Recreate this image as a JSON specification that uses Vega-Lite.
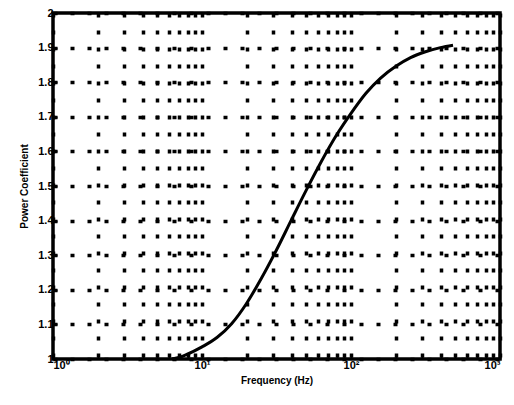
{
  "$schema": "https://vega.github.io/schema/vega-lite/v6.json",
  "width": 447,
  "height": 346,
  "autosize": {"type": "none"},
  "padding": {"left": 53, "top": 13, "right": 14, "bottom": 46},
  "background": "white",
  "config": {
    "view": {"stroke": "black", "strokeWidth": 3.5},
    "axis": {
      "labelFont": "Liberation Sans",
      "labelFontWeight": "bold",
      "labelFontSize": 11,
      "labelColor": "black",
      "titleFont": "Liberation Sans",
      "titleFontWeight": "bold",
      "titleFontSize": 10,
      "titleColor": "black",
      "domain": false,
      "gridColor": "black",
      "gridOpacity": 1,
      "tickColor": "black"
    }
  },
  "data": {
    "values": [
      {"f": 6.3, "p": 1.0},
      {"f": 7.1, "p": 1.005},
      {"f": 7.9, "p": 1.013},
      {"f": 10, "p": 1.035},
      {"f": 12.6, "p": 1.062},
      {"f": 15.8, "p": 1.102},
      {"f": 20, "p": 1.162},
      {"f": 25.1, "p": 1.234},
      {"f": 31.6, "p": 1.315},
      {"f": 39.8, "p": 1.402},
      {"f": 50.1, "p": 1.488},
      {"f": 63.1, "p": 1.57},
      {"f": 79.4, "p": 1.645},
      {"f": 100, "p": 1.71},
      {"f": 126, "p": 1.768},
      {"f": 158, "p": 1.812},
      {"f": 200, "p": 1.846},
      {"f": 251, "p": 1.871},
      {"f": 316, "p": 1.888},
      {"f": 398, "p": 1.9},
      {"f": 484, "p": 1.907}
    ]
  },
  "mark": {"type": "line", "color": "black", "strokeWidth": 3, "interpolate": "monotone"},
  "encoding": {
    "x": {
      "field": "f",
      "type": "quantitative",
      "scale": {"type": "log", "domain": [1, 1000], "nice": false},
      "axis": {
        "title": "Frequency (Hz)",
        "titlePadding": 5,
        "values": [1,2,3,4,5,6,7,8,9,10,20,30,40,50,60,70,80,90,100,200,300,400,500,600,700,800,900,1000],
        "labelExpr": "datum.value == 1 ? '10⁰' : datum.value == 10 ? '10¹' : datum.value == 100 ? '10²' : datum.value == 1000 ? '10³' : ''",
        "labelPadding": 4,
        "tickSize": -4,
        "tickWidth": 2,
        "gridDash": [4, 13],
        "gridWidth": 3.5
      }
    },
    "y": {
      "field": "p",
      "type": "quantitative",
      "scale": {"domain": [1, 2], "nice": false, "zero": false},
      "axis": {
        "title": "Power Coefficient",
        "titlePadding": 8,
        "values": [1, 1.1, 1.2, 1.3, 1.4, 1.5, 1.6, 1.7, 1.8, 1.9, 2],
        "format": ".1~f",
        "labelPadding": 4,
        "tickSize": -4,
        "tickWidth": 2,
        "gridDash": [4, 13],
        "gridWidth": 3.5
      }
    }
  }
}
